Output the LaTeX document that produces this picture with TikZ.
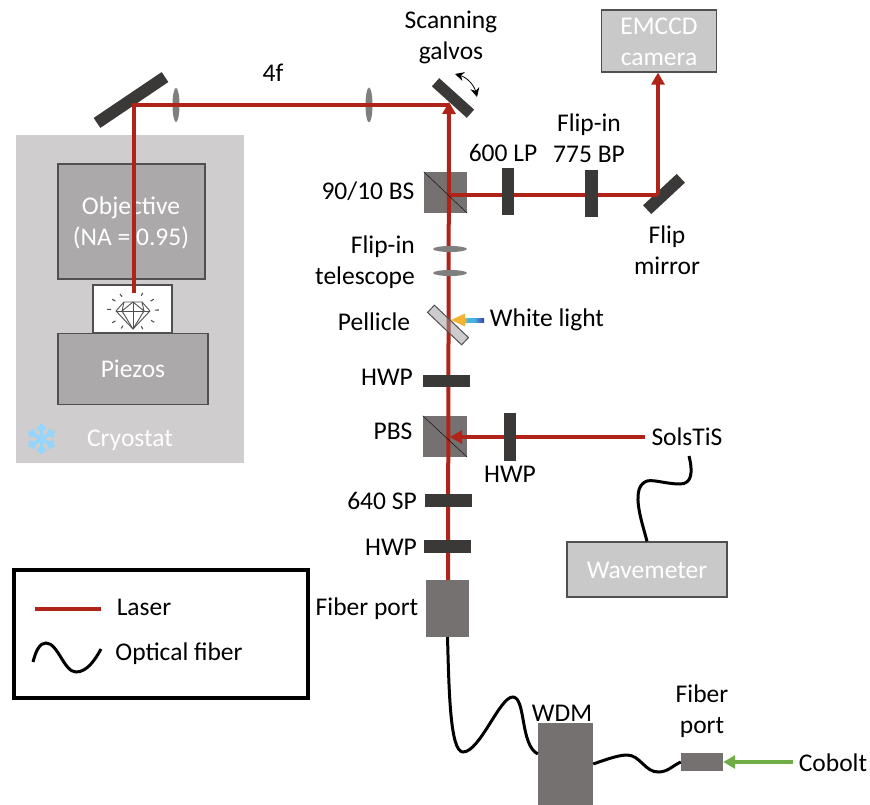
\documentclass[tikz,border=0pt]{standalone}
\usepackage{fontspec}
\setmainfont{Carlito}
\usetikzlibrary{positioning, arrows.meta, shapes.geometric}
\definecolor{laserred}{HTML}{B02318}
\definecolor{plategray}{HTML}{3B3838}
\definecolor{cubegray}{HTML}{767171}
\definecolor{boxgray}{HTML}{ABA9AA}
\definecolor{lightbox}{HTML}{C9C9C9}
\definecolor{cryogray}{HTML}{CFCDCE}
\definecolor{edgegray}{HTML}{505050}
\definecolor{lensgray}{HTML}{7F7F7F}
\definecolor{pumpgreen}{HTML}{70AD47}
\definecolor{iceblue}{HTML}{96D5FB}
\definecolor{headgold}{HTML}{F5B335}
\definecolor{tailmid}{HTML}{45B5E0}
\definecolor{tailblue}{HTML}{3C3CB0}
\pgfdeclarehorizontalshading{rainbowlight}{100bp}{color(0bp)=(headgold); color(25bp)=(headgold); color(35bp)=(tailmid); color(50bp)=(tailmid); color(75bp)=(tailblue); color(100bp)=(tailblue)}
\tikzset{
    txt/.style={inner sep=0pt, align=center, font=\fontsize{25.5}{31}\selectfont},
    whitetxt/.style={txt, text=white},
    box/.style={draw=edgegray, line width=1.2pt, fill=boxgray, inner sep=0pt, minimum width=#1},
    lightbx/.style={box=#1, fill=lightbox},
    cube/.style={fill=cubegray, inner sep=0pt, minimum width=#1},
    plate/.style={fill=plategray, inner sep=0pt, outer sep=0pt},
    lens/.style={ellipse, fill=lensgray, inner sep=0pt, outer sep=0pt},
    beam/.style={draw=laserred, line width=4pt},
    beamarrow/.style={beam, -{Triangle[width=13pt,length=12pt]}},
    fiber/.style={draw=black, line width=3pt},
    ray/.style={draw=edgegray, line width=1.1pt},
    gem/.style={draw=edgegray, line width=0.9pt, line join=round}
}
\begin{document}
\begin{tikzpicture}[x=1pt, y=-1pt]
    \useasboundingbox (0,0) rectangle (870,805);
    % cryostat
    \node (cryostat) [fill=cryogray, inner sep=0pt, minimum width=228pt, minimum height=328pt] at (130,299) {};
    \node (objective) [box=147pt, minimum height=115pt] at (131.5,221.5) {};
    \node (sample) [draw=edgegray, line width=1.2pt, fill=white, inner sep=0pt, minimum width=79pt, minimum height=48pt] at (132.5,309) {};
    \node (piezos) [box=150pt, minimum height=71pt] at (133,369) {};
    \node (objectivetxt) [whitetxt] at (131,223) {Objective\\(NA = 0.95)};
    \node (piezostxt) [whitetxt] at (133,369) {Piezos};
    \node (cryostattxt) [whitetxt] at (130,440) {Cryostat};
    % snowflake
    \foreach \a in {30,90,150,210,270,330}{
        \draw[iceblue, line width=3.5pt] (41.5,439) -- ++(\a:15pt);
        \draw[iceblue, line width=2.5pt] (41.5,439) ++(\a:8pt) -- ++(\a+45:6pt);
        \draw[iceblue, line width=2.5pt] (41.5,439) ++(\a:8pt) -- ++(\a-45:6pt);
    }
    % gem in the sample
    \draw[gem] (124,302) -- (142,302) -- (150,311) -- (133,329) -- (116,311) -- cycle;
    \draw[gem] (116,311) -- (150,311);
    \draw[gem] (124,302) -- (122,311) -- (133,329) -- (144,311) -- (142,302);
    \draw[gem] (122,311) -- (133,302) -- (144,311);
    \draw[gem] (133,302) -- (133,329);
    \foreach \a in {3,37,68,120,143,175,217,243,292,325}{
        \draw[ray] ({133+22*cos(\a)},{311-16.5*sin(\a)}) -- ({133+26*cos(\a)},{311-19.5*sin(\a)});
    }
    % mirrors and lenses
    \node (relaymirror) [plate, rotate=34, minimum width=82pt, minimum height=12pt] at (131,100) {};
    \node (lensa) [lens, minimum width=7pt, minimum height=34pt] at (176,105) {};
    \node (lensb) [lens, minimum width=7pt, minimum height=35pt] at (369,105) {};
    \node (galvomirror) [plate, rotate=-42, minimum width=47pt, minimum height=11pt] at (453,98) {};
    \node (flipmirror) [plate, rotate=43, minimum width=46pt, minimum height=12pt] at (664,194) {};
    % cubes
    \node (bs) [cube=43pt, minimum height=41pt] at (445.5,192.5) {};
    \node (pbs) [cube=44pt, minimum height=41pt] at (445,436.5) {};
    \node (fiberport) [cube=43pt, minimum height=57pt] at (447.5,608.5) {};
    \node (wdm) [cube=55pt, minimum height=90pt] at (565.5,768) {};
    \node (smallport) [cube=42pt, minimum height=18pt] at (702,762) {};
    % boxes
    \node (camera) [lightbx=115pt, minimum height=62pt] at (659,41) {};
    \node (wavemeter) [lightbx=160pt, minimum height=55pt] at (647,569.5) {};
    \node (cameratxt) [whitetxt] at (659,42) {EMCCD\\camera};
    \node (wavemetertxt) [whitetxt] at (647,570) {Wavemeter};
    % points where the beams turn
    \coordinate (hitrelay) at (134,105);
    \coordinate (hitsample) at (134,293);
    \coordinate (hitgalvo) at (449,105);
    \coordinate (tipgalvo) at (449,102);
    \coordinate (hitbs) at (449,195);
    \coordinate (hitflip) at (658,195);
    \coordinate (tippbs) at (450,437);
    \coordinate (startsols) at (645,437);
    \coordinate (portbeam) at (448,580);
    % beams
    \draw[beam] (hitsample) -- (hitrelay) -- (hitgalvo);
    \draw[beamarrow] (portbeam) -- (tipgalvo);
    \draw[beam] (hitbs) -- (hitflip);
    \draw[beamarrow] (hitflip) -- (camera.south -| hitflip);
    \draw[beamarrow] (startsols) -- (tippbs);
    \draw (bs.north west) -- (bs.south east);
    \draw (pbs.north west) -- (pbs.south east);
    % waveplates and filters
    \node (lp) [plate, minimum width=12pt, minimum height=47pt] at (508,191.5) {};
    \node (bp) [plate, minimum width=13pt, minimum height=47pt] at (591.5,193.5) {};
    \node (hwpa) [plate, minimum width=47pt, minimum height=12pt] at (446.5,381) {};
    \node (hwpb) [plate, minimum width=12.5pt, minimum height=48pt] at (510,437) {};
    \node (sp) [plate, minimum width=47pt, minimum height=13pt] at (448.5,500.5) {};
    \node (hwpc) [plate, minimum width=47pt, minimum height=13pt] at (447.5,546.5) {};
    \node (telea) [lens, minimum width=34pt, minimum height=6pt] at (450,249) {};
    \node (teleb) [lens, minimum width=34pt, minimum height=6pt] at (450,273) {};
    \node (pellicle) [draw=edgegray, line width=1pt, fill=black!40, inner sep=0pt, rotate=-43.5, minimum width=47pt, minimum height=10pt, fill opacity=0.5] at (448,325) {};
    % galvo motion
    \coordinate (galvoup) at (455,74);
    \coordinate (galvodown) at (477,97);
    \draw[{Stealth[length=9pt,width=9pt]}-{Stealth[length=9pt,width=9pt]}, line width=0.8pt] (galvoup) to[bend left=30] (galvodown);
    % white light
    \shade[shading=rainbowlight] (464,318) rectangle (484,322);
    \coordinate (tipwhite) at (451,320);
    \fill[headgold] (tipwhite) -- (465,313.5) -- (465,326.5) -- cycle;
    % fibers
    \draw[fiber] (fiberport.south) .. controls (449,690) and (450,752) .. (463,752) .. controls (480,752) and (500,696) .. (513,697) .. controls (526,698) and (520,745) .. (wdm.west |- 0,754);
    \draw[fiber] (wdm.east |- 0,764) .. controls (610,758) and (620,755) .. (627,755) .. controls (640,755) and (645,772) .. (658,772) .. controls (668,772) and (672,766) .. (smallport.west);
    \coordinate (solsfiber) at (689,456);
    \draw[fiber] (solsfiber) .. controls (693,472) and (692,484) .. (680,484) .. controls (665,484) and (650,478) .. (645,482) .. controls (630,490) and (643,525) .. (wavemeter.north);
    % green input
    \coordinate (startcobolt) at (793,762);
    \draw[draw=pumpgreen, line width=4pt, -{Triangle[width=13pt,length=12pt]}] (startcobolt) -- (smallport.east);
    % labels
    \node (galvotxt) [txt] at (451,37) {Scanning\\galvos};
    \node (fourf) [txt] at (273,73) {4f};
    \node (lptxt) [txt] at (503,153) {600 LP};
    \node (bptxt) [txt] at (589,138.5) {Flip-in\\775 BP};
    \node (fliptxt) [txt] at (667,250) {Flip\\mirror};
    \node (bstxt) [txt] at (368,191) {90/10 BS};
    \node (teletxt) [txt, align=right, anchor=east] at (415,262) {Flip-in\\telescope};
    \node (pellicletxt) [txt] at (374,322) {Pellicle};
    \node (whitelighttxt) [txt] at (547,320) {White light};
    \node (hwpatxt) [txt] at (387,377) {HWP};
    \node (pbstxt) [txt] at (393,431) {PBS};
    \node (hwpbtxt) [txt] at (510,474) {HWP};
    \node (solstxt) [txt] at (687,437) {SolsTiS};
    \node (sptxt) [txt] at (382,501) {640 SP};
    \node (hwpctxt) [txt] at (391,547) {HWP};
    \node (porttxt) [txt] at (367,609) {Fiber port};
    \node (wdmtxt) [txt] at (562,713) {WDM};
    \node (smalltxt) [txt] at (702,711) {Fiber\\port};
    \node (cobolttxt) [txt] at (833,763) {Cobolt};
    % legend
    \node (legend) [draw=black, line width=4pt, inner sep=0pt, minimum width=294pt, minimum height=128pt] at (161,634) {};
    \coordinate (lasera) at (35,609);
    \coordinate (laserb) at (101,609);
    \draw[beam] (lasera) -- (laserb);
    \coordinate (fibera) at (33,662);
    \coordinate (fiberb) at (101,649);
    \draw[fiber] (fibera) .. controls (36,650) and (40,643) .. (46,643) .. controls (58,643) and (64,672) .. (76,672) .. controls (87,672) and (95,660) .. (fiberb);
    \node (lasertxt) [txt] at (144,607) {Laser};
    \node (fibertxt) [txt] at (179,654) {Optical fiber};
\end{tikzpicture}
\end{document}
